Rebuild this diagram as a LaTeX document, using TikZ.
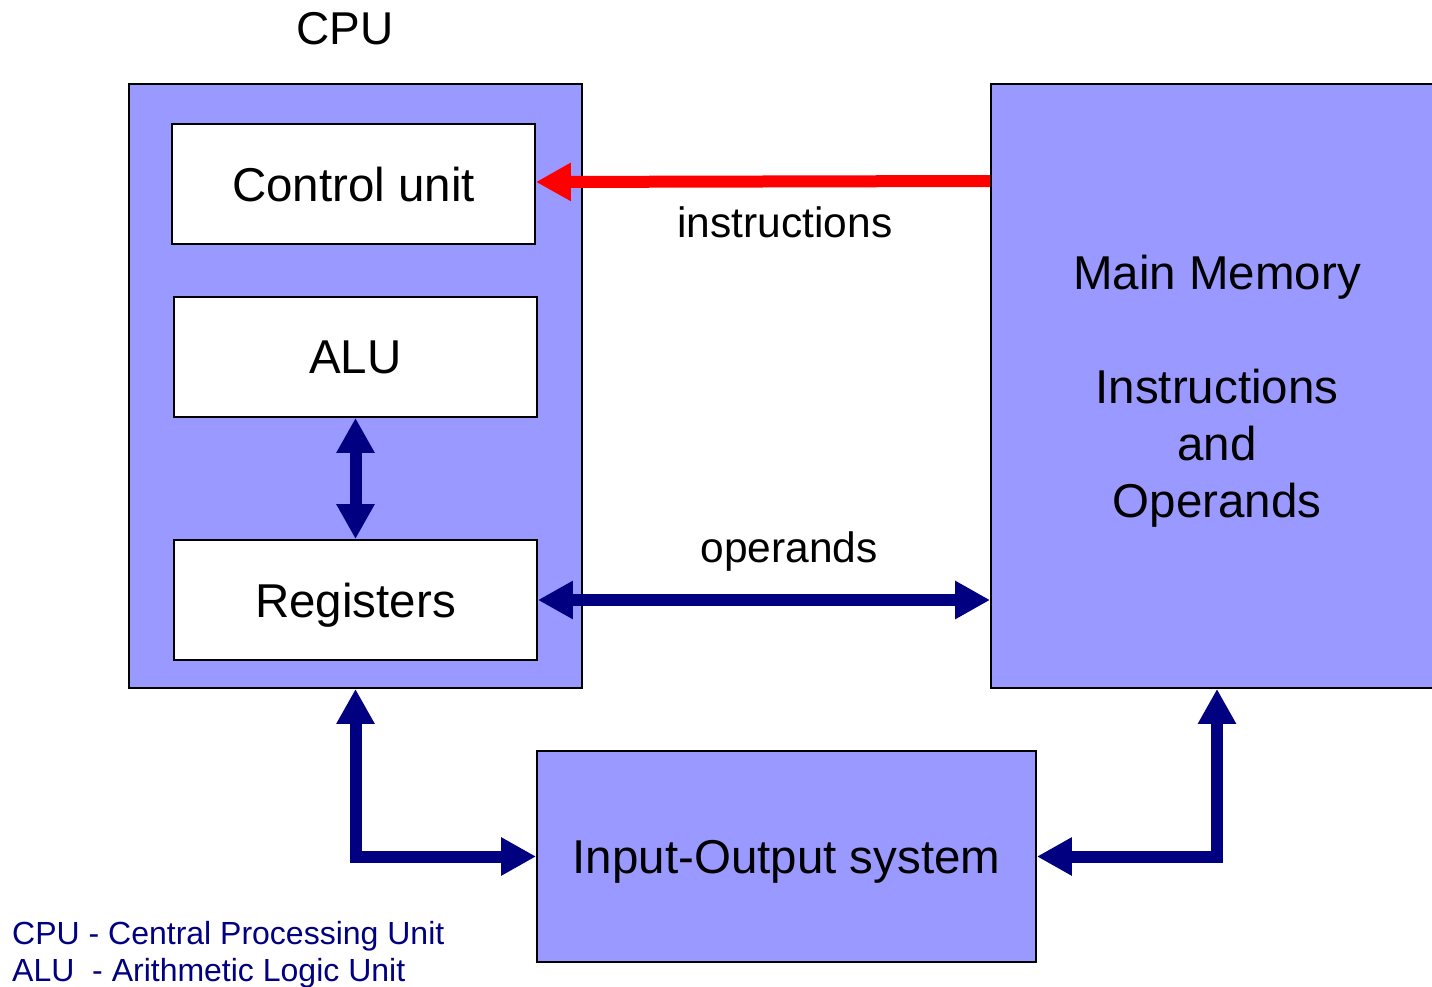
\documentclass[tikz,border=0pt]{standalone}
\usepackage{fontspec}
\setmainfont{Liberation Sans}
\usepackage{xcolor}
\usetikzlibrary{arrows.meta,positioning}

\definecolor{boxfill}{HTML}{9999FF}
\definecolor{busnavy}{HTML}{000080}

\begin{document}
\begin{tikzpicture}[
    x=1pt,
    y=-1pt,
    unitbox/.style={
        draw=black,
        line width=1.8pt,
        fill=boxfill,
        inner sep=0pt,
        text depth=0pt,
        font=\fontsize{47.5}{57}\selectfont,
        align=center
    },
    partbox/.style={
        unitbox,
        fill=white,
        minimum width=363pt,
        minimum height=120pt
    },
    instrline/.style={
        draw=red,
        line width=12pt,
        -{Triangle[length=35pt,width=36pt]}
    },
    busline/.style={
        draw=busnavy,
        line width=12pt,
        {Triangle[length=35pt,width=36pt]}-{Triangle[length=35pt,width=36pt]}
    },
    buslabel/.style={
        font=\fontsize{42.5}{50}\selectfont
    },
    notetext/.style={
        text=busnavy,
        anchor=base west,
        inner sep=0pt,
        font=\fontsize{32}{38}\selectfont
    }
]

\clip (0,0) rectangle (1432,987);

% CPU
\node[anchor=base,inner sep=0pt,font=\fontsize{46}{55}\selectfont]
    (cputitle) at (345,45) {CPU};

\node[unitbox,minimum width=453pt,minimum height=604pt]
    (cpu) at (355.5,386) {};

\node[partbox] (cu) at (353.5,184) {Control unit};
\node[partbox] (alu) at (355.5,357) {ALU};
\node[partbox] (reg) at (355.5,600) {Registers};

% Memory
\node[unitbox,minimum width=452pt,minimum height=604pt]
    (mem) at (1217,386)
    {Main Memory\\[57pt]Instructions\\and\\Operands};

% Input-Output
\node[unitbox,minimum width=499pt,minimum height=211pt]
    (io) at (786.5,856.5) {Input-Output system};

% buses
\draw[instrline] ([yshift=3pt]mem.west |- cu.east) -- ([yshift=2pt]cu.east);
\node[buslabel] (instrlabel) at (785,222) {instructions};

\draw[busline] (alu.south) -- (reg.north);

\draw[busline] (reg.east) -- (mem.west |- reg.east);
\node[buslabel] (oplabel) at (789,552) {operands};

\draw[busline,line join=miter] (cpu.south) -- (cpu.south |- io.west) -- (io.west);
\draw[busline,line join=miter] (io.east) -- (mem.south |- io.east) -- (mem.south);

% legend
\node[notetext] (cpunote) at (12,944) {CPU - Central Processing Unit};
\node[notetext] (alunote) at (12,981) {ALU\ \ - Arithmetic Logic Unit};

\end{tikzpicture}
\end{document}
